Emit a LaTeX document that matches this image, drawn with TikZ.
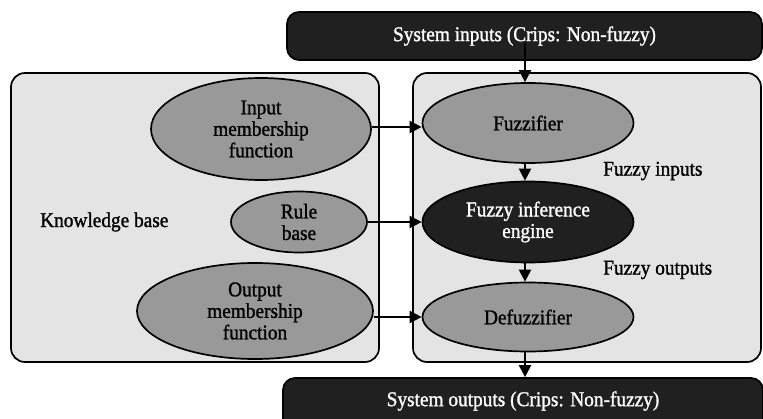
\documentclass[tikz,border=0pt]{standalone}
\usepackage{fontspec}
\setmainfont{Liberation Serif}[FakeStretch=0.92,FakeBold=1.2]
\usetikzlibrary{shapes.geometric,arrows.meta}
\definecolor{panelgray}{HTML}{E4E4E4}
\definecolor{ellgray}{HTML}{999999}
\definecolor{darkfill}{HTML}{202020}
\begin{document}
\begin{tikzpicture}[x=1pt,y=-1pt,
  txt/.style={font=\fontsize{21}{21.5}\selectfont, align=center, inner sep=0pt},
  panel/.style={draw=black, line width=1.7pt, fill=panelgray, rounded corners=14pt},
  darkbox/.style={draw=black, line width=1.7pt, fill=darkfill, rounded corners=12pt},
  ell/.style={ellipse, draw=black, line width=1.7pt, fill=ellgray, inner sep=0pt, txt},
  darkell/.style={ellipse, draw=black, line width=1.7pt, fill=darkfill, text=white, inner sep=0pt, txt},
  arr/.style={line width=2.2pt, -{Triangle[length=12pt,width=12pt]}}
]
\useasboundingbox (0,0) rectangle (763,419);
\clip (0,0) rectangle (763,419);
% panels
\draw[panel] (11,73) rectangle (379,362);
\draw[panel] (413,73) rectangle (761,362);
% top and bottom boxes
\node[darkbox, minimum width=475pt, minimum height=48pt, inner sep=0pt] (inbox) at (524.5,36) {};
\node[txt, text=white] (intext) at (524.5,36) {System inputs (Crips: Non-fuzzy)};
\node[darkbox, minimum width=480pt, minimum height=56pt, inner sep=0pt] (outbox) at (523,406) {};
\node[txt, text=white] (outtext) at (523,401) {System outputs (Crips: Non-fuzzy)};
% left ellipses
\node[ell, minimum width=220pt, minimum height=102pt] (inmf) at (261,129) {Input\\membership\\function};
\node[ell, minimum width=136pt, minimum height=61pt] (rule) at (299,222) {Rule\\base};
\node[ell, minimum width=236pt, minimum height=96pt] (outmf) at (255,311) {Output\\membership\\function};
% right ellipses
\node[ell, minimum width=211pt, minimum height=80pt] (fuzz) at (528,123) {Fuzzifier};
\node[darkell, minimum width=211pt, minimum height=81pt] (engine) at (528,222) {Fuzzy inference\\engine};
\node[ell, minimum width=211pt, minimum height=69pt] (defuzz) at (528,317) {Defuzzifier};
% labels
\node[txt, anchor=west] (kb) at (40,222) {Knowledge base};
\node[txt, anchor=west] (fin) at (603,171) {Fuzzy inputs};
\node[txt, anchor=west] (fout) at (603,270) {Fuzzy outputs};
% arrows
\coordinate (tin) at (525,43);
\draw[arr] (tin) -- (tin |- fuzz.north);
\draw[arr] (inmf.east |- 0,127) -- (fuzz.west |- 0,127);
\draw[arr] (rule.east) -- (engine.west);
\draw[arr] (outmf.east |- defuzz.west) -- (defuzz.west);
\draw[arr] ([xshift=-3pt]fuzz.south) -- ([xshift=-3pt]engine.north);
\draw[arr] ([xshift=-3pt]engine.south) -- ([xshift=-3pt]defuzz.north);
\draw[arr] ([xshift=-3pt]defuzz.south) -- ([xshift=-3pt]defuzz.south |- outbox.north);
\end{tikzpicture}
\end{document}
